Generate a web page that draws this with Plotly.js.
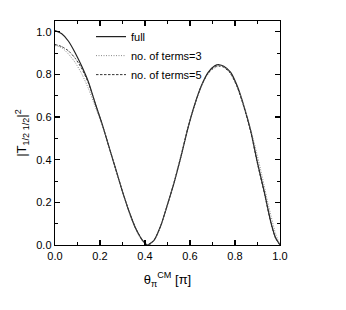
<!DOCTYPE html>
<html><head><meta charset="utf-8">
<script src="https://cdn.plot.ly/plotly-3.0.1.min.js"></script>
<style>body{margin:0;background:#fff}#c{width:346px;height:310px}</style>
</head><body><div id="c"></div>
<script>
var xFull = [0.00,0.03,0.06,0.09,0.12,0.15,0.18,0.21,0.24,0.27,0.30,0.33,0.36,0.39,0.41,0.44,0.47,0.50,0.53,0.56,0.59,0.62,0.65,0.68,0.71,0.73,0.75,0.78,0.81,0.84,0.87,0.90,0.93,0.96,0.98,1.00];
var yFull = [1.005,0.99,0.955,0.90,0.835,0.76,0.66,0.565,0.46,0.355,0.25,0.155,0.075,0.02,0.0,0.022,0.09,0.19,0.295,0.415,0.545,0.655,0.745,0.808,0.84,0.845,0.838,0.81,0.745,0.65,0.535,0.385,0.25,0.105,0.035,0.0];
var x3 = [0.00,0.03,0.06,0.09,0.12,0.15,0.18,0.21,0.24,0.27,0.30,0.33,0.36,0.39,0.42,0.45,0.48,0.51,0.54,0.57,0.60,0.63,0.66,0.69,0.72,0.745,0.77,0.80,0.83,0.86,0.89,0.92,0.95,0.98,1.00];
var y3 = [0.935,0.925,0.895,0.855,0.80,0.73,0.645,0.56,0.46,0.355,0.25,0.15,0.07,0.016,0.0,0.04,0.12,0.225,0.34,0.465,0.585,0.685,0.765,0.815,0.835,0.837,0.818,0.765,0.685,0.58,0.46,0.325,0.18,0.055,0.0];
var x5 = [0.00,0.03,0.06,0.09,0.12,0.15,0.18,0.21,0.24,0.27,0.30,0.33,0.36,0.39,0.41,0.44,0.47,0.50,0.53,0.56,0.59,0.62,0.65,0.68,0.71,0.73,0.75,0.78,0.81,0.84,0.87,0.90,0.93,0.96,0.98,1.00];
var y5 = [0.94,0.93,0.91,0.875,0.825,0.755,0.66,0.565,0.46,0.355,0.25,0.155,0.075,0.02,0.0,0.022,0.09,0.19,0.295,0.415,0.545,0.655,0.745,0.805,0.835,0.84,0.833,0.805,0.74,0.645,0.53,0.38,0.245,0.1,0.032,0.0];
var xTicks = [0,0.2,0.4,0.6,0.8,1.0];
var xTickText = ['0.0','0.2','0.4','0.6','0.8','1.0'];
var yTicks = [0,0.2,0.4,0.6,0.8,1.0];
var yTickText = ['0.0','0.2','0.4','0.6','0.8','1.0'];

var traces = [
 {x:xFull,y:yFull,mode:'lines',name:'full',line:{color:'#222',width:1.2,shape:'spline',smoothing:0.6}},
 {x:x3,y:y3,mode:'lines',name:'no. of terms=3',line:{color:'#888',width:1,dash:'1px,1.5px',shape:'spline',smoothing:0.6}},
 {x:x5,y:y5,mode:'lines',name:'no. of terms=5',line:{color:'#333',width:1,dash:'2.5px,1.5px',shape:'spline',smoothing:0.6}}
];
var axCommon = {showgrid:false,zeroline:false,showline:true,linecolor:'#000',linewidth:1.3,mirror:'ticks',
  ticks:'inside',ticklen:5,tickwidth:1.3,tickcolor:'#000',tickfont:{family:'Arial, Liberation Sans',size:11,color:'#000'}};
var layout = {
 width:346,height:310,paper_bgcolor:'#fff',plot_bgcolor:'#fff',
 margin:{l:55,r:66,t:21,b:65},
 showlegend:true,
 legend:{x:0.16,y:0.995,xanchor:'left',yanchor:'top',bgcolor:'rgba(0,0,0,0)',borderwidth:0,
   font:{family:'Arial, Liberation Sans',size:11,color:'#000'},tracegroupgap:0,itemwidth:30},
 xaxis:Object.assign({},axCommon,{range:[0,1],tickvals:xTicks,ticktext:xTickText,
   minor:{dtick:0.1,ticks:'inside',ticklen:3,tickwidth:1,tickcolor:'#000'},
   title:{text:'θ<sub>π</sub><sup>CM</sup> [π]',font:{family:'Arial, Liberation Sans',size:13,color:'#000'},standoff:14}}),
 yaxis:Object.assign({},axCommon,{range:[0,1.05],tickvals:yTicks,ticktext:yTickText,
   minor:{dtick:0.1,ticks:'inside',ticklen:3,tickwidth:1,tickcolor:'#000'},
   title:{text:'|T<sub>1/2 1/2</sub>|<sup>2</sup>',font:{family:'Arial, Liberation Sans',size:13,color:'#000'},standoff:6}})
};
Plotly.newPlot('c',traces,layout,{staticPlot:true,displayModeBar:false});
</script></body></html>
